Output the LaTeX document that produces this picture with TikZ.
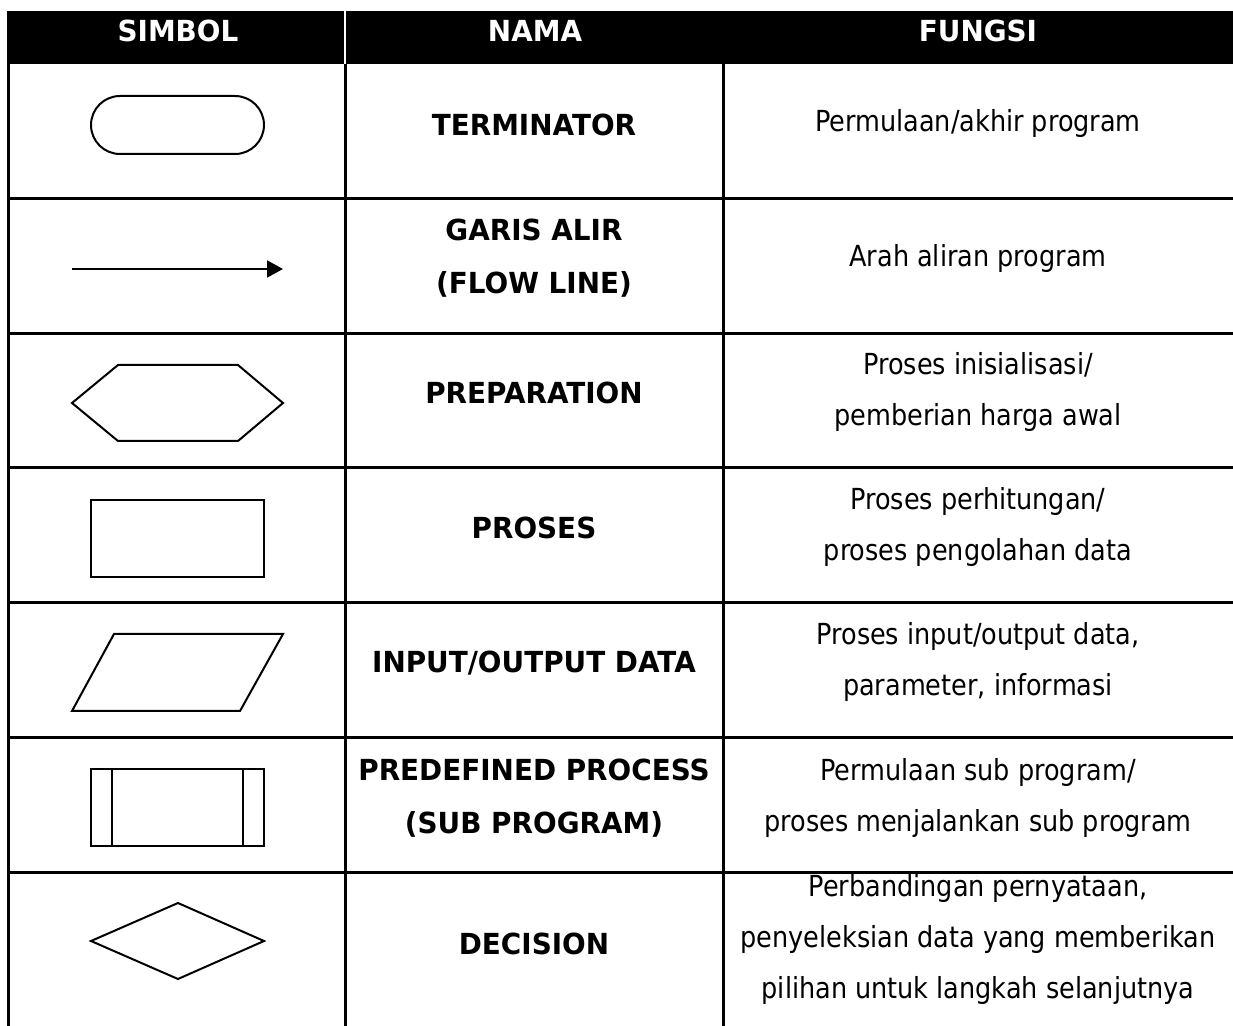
\documentclass[tikz,border=0pt]{standalone}
\usepackage{fontspec}
\setmainfont{DejaVu Sans}[FakeStretch=0.88]
\newfontfamily\tabbold{DejaVu Sans}[FakeStretch=0.96]
\usetikzlibrary{arrows.meta}

\begin{document}
\begin{tikzpicture}[
    x=0.5pt, y=-0.5pt,
    grid/.style={line width=1.5pt, draw=black},
    symbol/.style={line width=1pt, draw=black, line join=miter},
    headcell/.style={text=white, font=\fontsize{14.5}{17}\selectfont\tabbold\bfseries},
    namecell/.style={align=center, font=\fontsize{14.5}{26.5}\selectfont\tabbold\bfseries},
    infocell/.style={align=center, font=\fontsize{14.5}{25.5}\selectfont}
]
    \useasboundingbox (0,0) rectangle (1233,1026);

    % Header
    \fill[black] (7,11) rectangle (1233,64);
    \draw[white, line width=0.6pt] (345,11) -- (345,64);
    \node[headcell] (hsimbol) at (178,31) {SIMBOL};
    \node[headcell] (hnama) at (535,31) {NAMA};
    \node[headcell] (hfungsi) at (978,31) {FUNGSI};

    % Table lines
    \draw[grid] (8,64) -- (8,1026);
    \draw[grid] (345,64) -- (345,1026);
    \draw[grid] (723,64) -- (723,1026);
    \foreach \y in {199,334,468,603,738,872}
        \draw[grid] (7,\y) -- (1233,\y);

    % Terminator
    \draw[symbol, rounded corners=14.5pt] (91,96) rectangle (264,154);
    \node[namecell] (nterm) at (534,125) {TERMINATOR};
    \node[infocell] (fterm) at (978,124) {Permulaan/akhir program};

    % Flow line
    \coordinate (fls) at (72,269);
    \coordinate (fle) at (283,269);
    \draw[symbol, -{Triangle[length=8pt, width=8.5pt]}] (fls) -- (fle);
    \node[namecell] (nflow) at (534,258) {GARIS ALIR\\(FLOW LINE)};
    \node[infocell] (fflow) at (978,259) {Arah aliran program};

    % Preparation
    \draw[symbol] (72,403) -- (118,365) -- (238,365) -- (283,403)
        -- (238,441) -- (118,441) -- cycle;
    \node[namecell] (nprep) at (534,393) {PREPARATION};
    \node[infocell] (fprep) at (978,392) {Proses inisialisasi/\\pemberian harga awal};

    % Proses
    \draw[symbol] (91,500) rectangle (264,577);
    \node[namecell] (nproc) at (534,528) {PROSES};
    \node[infocell] (fproc) at (978,527) {Proses perhitungan/\\proses pengolahan data};

    % Input/Output
    \draw[symbol] (114,634) -- (283,634) -- (240,711) -- (72,711) -- cycle;
    \node[namecell] (nio) at (534,663) {INPUT/OUTPUT DATA};
    \node[infocell] (fio) at (978,662) {Proses input/output data,\\parameter, informasi};

    % Predefined process
    \draw[symbol] (91,769) rectangle (264,846);
    \draw[symbol] (112,769) -- (112,846);
    \draw[symbol] (243,769) -- (243,846);
    \node[namecell] (npre) at (534,798) {PREDEFINED PROCESS\\(SUB PROGRAM)};
    \node[infocell] (fpre) at (978,798) {Permulaan sub program/\\proses menjalankan sub program};

    % Decision
    \draw[symbol] (91,941) -- (178,903) -- (264,941) -- (178,979) -- cycle;
    \node[namecell] (ndec) at (534,944) {DECISION};
    \node[infocell] (fdec) at (978,939) {Perbandingan pernyataan,\\penyeleksian data yang memberikan\\pilihan untuk langkah selanjutnya};
\end{tikzpicture}
\end{document}
